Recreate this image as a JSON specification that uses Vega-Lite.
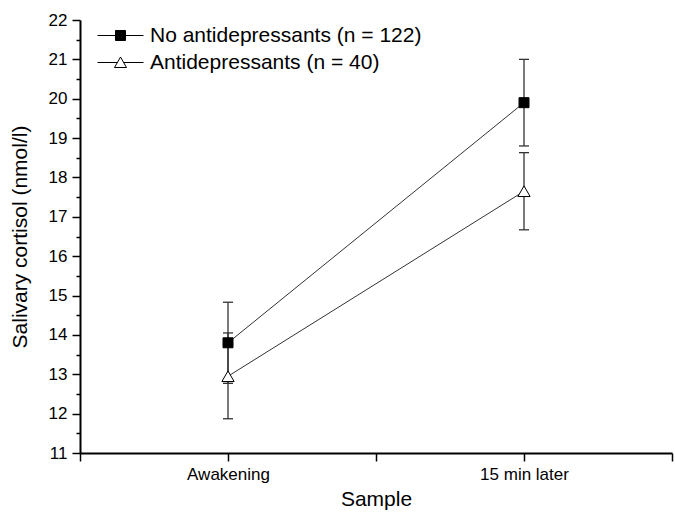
{
  "$schema": "https://vega.github.io/schema/vega-lite/v6.json",
  "width": 592,
  "height": 433,
  "autosize": {"type": "none"},
  "padding": {"left": 80, "top": 20, "right": 3, "bottom": 62},
  "background": "white",
  "config": {
    "view": {"stroke": null},
    "font": "Liberation Sans",
    "axis": {"grid": false, "labelColor": "black", "titleColor": "black", "titleFontWeight": "normal", "domainColor": "black", "tickColor": "black"},
    "legend": {"labelColor": "black"}
  },
  "data": {
    "values": [
      {"group": "No antidepressants (n = 122)", "sample": "Awakening", "x": 1, "mean": 13.8, "lo": 12.77, "hi": 14.83},
      {"group": "No antidepressants (n = 122)", "sample": "15 min later", "x": 2, "mean": 19.9, "lo": 18.8, "hi": 21.0},
      {"group": "Antidepressants (n = 40)", "sample": "Awakening", "x": 1, "mean": 12.95, "lo": 11.87, "hi": 14.05},
      {"group": "Antidepressants (n = 40)", "sample": "15 min later", "x": 2, "mean": 17.65, "lo": 16.67, "hi": 18.63}
    ]
  },
  "encoding": {
    "x": {
      "field": "x",
      "type": "quantitative",
      "scale": {"domain": [0.5, 2.5], "nice": false, "zero": false},
      "axis": {
        "values": [0.5, 1, 1.5, 2, 2.5],
        "labelExpr": "datum.value == 1 ? 'Awakening' : (datum.value == 2 ? '15 min later' : '')",
        "title": "Sample",
        "titleFontSize": 21,
        "titlePadding": 6,
        "labelFontSize": 17,
        "labelPadding": 5,
        "tickSize": 8,
        "tickWidth": 1.5,
        "domainWidth": 2,
        "labelFlush": false,
        "labelOverlap": false
      }
    },
    "y": {
      "field": "mean",
      "type": "quantitative",
      "scale": {"domain": [11, 22], "nice": false, "zero": false},
      "axis": {
        "values": [11, 11.5, 12, 12.5, 13, 13.5, 14, 14.5, 15, 15.5, 16, 16.5, 17, 17.5, 18, 18.5, 19, 19.5, 20, 20.5, 21, 21.5, 22],
        "labelExpr": "datum.value % 1 == 0 ? format(datum.value, 'd') : ''",
        "title": "Salivary cortisol (nmol/l)",
        "titleFontSize": 21,
        "titlePadding": 18,
        "labelFontSize": 17,
        "labelPadding": 5,
        "tickSize": {"condition": {"test": "datum.value % 1 != 0", "value": 4}, "value": 8},
        "tickWidth": 1.5,
        "domainWidth": 2,
        "labelFlush": false,
        "labelOverlap": false
      }
    }
  },
  "layer": [
    {
      "mark": {"type": "rule", "color": "#333333", "strokeWidth": 1.3},
      "encoding": {
        "y": {"field": "lo", "type": "quantitative", "scale": {"domain": [11, 22], "nice": false, "zero": false}, "axis": {
            "values": [11, 11.5, 12, 12.5, 13, 13.5, 14, 14.5, 15, 15.5, 16, 16.5, 17, 17.5, 18, 18.5, 19, 19.5, 20, 20.5, 21, 21.5, 22],
            "labelExpr": "datum.value % 1 == 0 ? format(datum.value, 'd') : ''",
            "title": "Salivary cortisol (nmol/l)",
            "titleFontSize": 21,
            "titlePadding": 18,
            "labelFontSize": 17,
            "labelPadding": 5,
            "tickSize": {"condition": {"test": "datum.value % 1 != 0", "value": 4}, "value": 8},
            "tickWidth": 1.5,
            "domainWidth": 2,
            "labelFlush": false,
            "labelOverlap": false
          }},
        "y2": {"field": "hi"}
      }
    },
    {
      "mark": {"type": "point", "shape": "stroke", "size": 100, "color": "#333333", "strokeWidth": 1.3, "opacity": 1},
      "encoding": {"y": {"field": "lo", "type": "quantitative", "scale": {"domain": [11, 22], "nice": false, "zero": false}, "axis": {
            "values": [11, 11.5, 12, 12.5, 13, 13.5, 14, 14.5, 15, 15.5, 16, 16.5, 17, 17.5, 18, 18.5, 19, 19.5, 20, 20.5, 21, 21.5, 22],
            "labelExpr": "datum.value % 1 == 0 ? format(datum.value, 'd') : ''",
            "title": "Salivary cortisol (nmol/l)",
            "titleFontSize": 21,
            "titlePadding": 18,
            "labelFontSize": 17,
            "labelPadding": 5,
            "tickSize": {"condition": {"test": "datum.value % 1 != 0", "value": 4}, "value": 8},
            "tickWidth": 1.5,
            "domainWidth": 2,
            "labelFlush": false,
            "labelOverlap": false
          }}}
    },
    {
      "mark": {"type": "point", "shape": "stroke", "size": 100, "color": "#333333", "strokeWidth": 1.3, "opacity": 1},
      "encoding": {"y": {"field": "hi", "type": "quantitative", "scale": {"domain": [11, 22], "nice": false, "zero": false}, "axis": {
            "values": [11, 11.5, 12, 12.5, 13, 13.5, 14, 14.5, 15, 15.5, 16, 16.5, 17, 17.5, 18, 18.5, 19, 19.5, 20, 20.5, 21, 21.5, 22],
            "labelExpr": "datum.value % 1 == 0 ? format(datum.value, 'd') : ''",
            "title": "Salivary cortisol (nmol/l)",
            "titleFontSize": 21,
            "titlePadding": 18,
            "labelFontSize": 17,
            "labelPadding": 5,
            "tickSize": {"condition": {"test": "datum.value % 1 != 0", "value": 4}, "value": 8},
            "tickWidth": 1.5,
            "domainWidth": 2,
            "labelFlush": false,
            "labelOverlap": false
          }}}
    },
    {
      "mark": {"type": "line", "color": "#333333", "strokeWidth": 1},
      "encoding": {
        "detail": {"field": "group", "type": "nominal"}
      }
    },
    {
      "transform": [{"filter": "datum.group === 'No antidepressants (n = 122)'"}],
      "mark": {"type": "point", "shape": "square", "filled": true, "fill": "black", "stroke": "black", "strokeWidth": 1, "size": 100, "opacity": 1},
      "encoding": {}
    },
    {
      "transform": [{"filter": "datum.group === 'Antidepressants (n = 40)'"}],
      "mark": {"type": "point", "shape": "triangle-up", "filled": true, "fill": "white", "stroke": "black", "strokeWidth": 1, "size": 150, "opacity": 1},
      "encoding": {}
    },
    {
      "transform": [{"filter": "datum.x > 100"}],
      "mark": {"type": "point", "filled": true, "stroke": "black", "strokeWidth": 1, "opacity": 1},
      "encoding": {
        "shape": {
          "field": "group",
          "type": "nominal",
          "scale": {"domain": ["No antidepressants (n = 122)", "Antidepressants (n = 40)"], "range": ["M-4.6,0H4.6M-1,-1H1V1H-1Z", "M-4.6,0H-0.63M0.63,0H4.6M0,-1.1L1.2,1H-1.2Z"]},
          "legend": {
            "orient": "none",
            "legendX": 30,
            "legendY": 5,
            "title": null,
            "padding": 0,
            "labelFontSize": 21,
            "labelLimit": 500,
            "labelOffset": 19,
            "symbolSize": 100,
            "symbolStrokeWidth": 1,
            "rowPadding": 5
          }
        },
        "fill": {
          "field": "group",
          "type": "nominal",
          "scale": {"domain": ["No antidepressants (n = 122)", "Antidepressants (n = 40)"], "range": ["black", "white"]},
          "legend": {
            "orient": "none",
            "legendX": 30,
            "legendY": 5,
            "title": null,
            "padding": 0,
            "labelFontSize": 21,
            "labelLimit": 500,
            "labelOffset": 19,
            "symbolSize": 100,
            "symbolStrokeWidth": 1,
            "rowPadding": 5
          }
        },
        "size": {"value": 100}
      }
    }
  ]
}
